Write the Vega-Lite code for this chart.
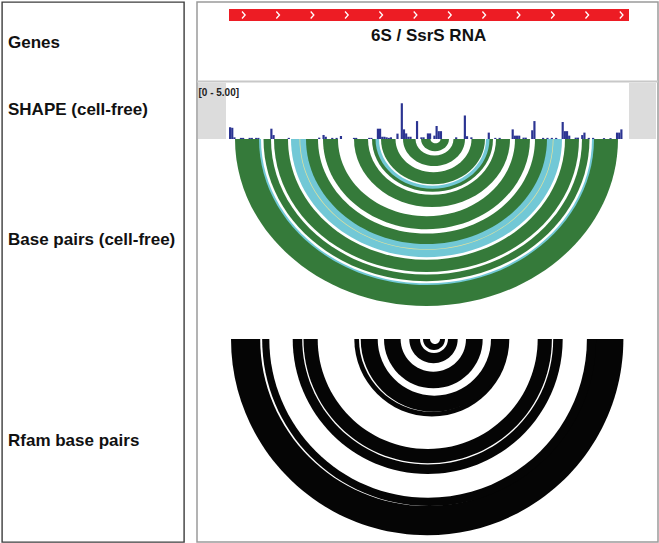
{
  "$schema": "https://vega.github.io/schema/vega-lite/v6.json",
  "padding": {"left": 1, "top": 1, "right": 1, "bottom": 1},
  "bounds": "flush",
  "spacing": 13,
  "config": {"view": {"stroke": null}, "font": "Liberation Sans"},
  "datasets": {
    "labels": [
      {"lx": 7, "ly": 46.7, "label": "Genes"},
      {"lx": 7, "ly": 114, "label": "SHAPE (cell-free)"},
      {"lx": 7, "ly": 244.3, "label": "Base pairs (cell-free)"},
      {"lx": 7, "ly": 445, "label": "Rfam base pairs"}
    ],
    "gray": [
      {"x1": -14.26, "x2": -1.38, "y1": 82, "y2": 138},
      {"x1": 184, "x2": 196.42, "y1": 82, "y2": 138}
    ],
    "sep": [{"ly": 80.5}],
    "gene": [{"start": 0, "end": 184, "top": 8, "bottom": 20}],
    "chev": [
      {"pos": 6.7, "ly": 14}, {"pos": 22.5, "ly": 14}, {"pos": 38.3, "ly": 14}, {"pos": 54.1, "ly": 14},
      {"pos": 69.9, "ly": 14}, {"pos": 85.7, "ly": 14}, {"pos": 101.5, "ly": 14}, {"pos": 117.3, "ly": 14},
      {"pos": 133.1, "ly": 14}, {"pos": 148.9, "ly": 14}, {"pos": 164.7, "ly": 14}, {"pos": 180.5, "ly": 14}
    ],
    "texts": [
      {"pos": 91.8, "ly": 40, "t": "6S / SsrS RNA"}
    ],
    "scaletxt": [{"pos": -14.03, "ly": 95, "t": "[0 - 5.00]"}],
    "shape": [
      {"s": 0, "e": 1, "v": 1.05}, {"s": 1, "e": 2, "v": 1.0}, {"s": 2, "e": 3, "v": 0.15},
      {"s": 5, "e": 6, "v": 0.1}, {"s": 6, "e": 7, "v": 0.1}, {"s": 9, "e": 10, "v": 0.1}, {"s": 10, "e": 11, "v": 0.1},
      {"s": 12, "e": 13, "v": 0.1}, {"s": 13, "e": 14, "v": 0.1}, {"s": 19, "e": 20, "v": 0.92}, {"s": 20, "e": 21, "v": 0.35},
      {"s": 27, "e": 28, "v": 0.1}, {"s": 41, "e": 42, "v": 0.12}, {"s": 43, "e": 44, "v": 0.36}, {"s": 44, "e": 45, "v": 0.2},
      {"s": 47, "e": 48, "v": 0.1}, {"s": 49, "e": 50, "v": 0.1}, {"s": 51, "e": 52, "v": 0.27}, {"s": 57, "e": 58, "v": 0.1},
      {"s": 58, "e": 59, "v": 0.1}, {"s": 64, "e": 65, "v": 0.1}, {"s": 65, "e": 66, "v": 0.1}, {"s": 68, "e": 69, "v": 0.92},
      {"s": 69, "e": 70, "v": 0.92}, {"s": 70, "e": 71, "v": 0.2}, {"s": 71, "e": 72, "v": 0.2}, {"s": 72, "e": 73, "v": 0.15},
      {"s": 73, "e": 74, "v": 0.1}, {"s": 74, "e": 75, "v": 0.15}, {"s": 77, "e": 78, "v": 0.48}, {"s": 79, "e": 80, "v": 3.19},
      {"s": 80, "e": 81, "v": 0.86}, {"s": 81, "e": 82, "v": 0.5}, {"s": 82, "e": 83, "v": 0.2}, {"s": 83, "e": 84, "v": 0.2},
      {"s": 86, "e": 87, "v": 1.6}, {"s": 88, "e": 89, "v": 0.15}, {"s": 89, "e": 90, "v": 0.15}, {"s": 91, "e": 92, "v": 0.5},
      {"s": 92, "e": 93, "v": 0.5}, {"s": 94, "e": 95, "v": 0.3}, {"s": 95, "e": 96, "v": 1.16}, {"s": 96, "e": 97, "v": 0.7},
      {"s": 97, "e": 98, "v": 0.7}, {"s": 104, "e": 105, "v": 0.15}, {"s": 108, "e": 109, "v": 2.1}, {"s": 109, "e": 110, "v": 0.25},
      {"s": 111, "e": 112, "v": 0.15}, {"s": 119, "e": 120, "v": 0.57}, {"s": 122, "e": 123, "v": 0.1}, {"s": 124, "e": 125, "v": 0.1},
      {"s": 130, "e": 131, "v": 0.86}, {"s": 131, "e": 132, "v": 0.3}, {"s": 132, "e": 133, "v": 0.3}, {"s": 133, "e": 134, "v": 0.3},
      {"s": 135, "e": 136, "v": 0.12}, {"s": 136, "e": 137, "v": 0.12}, {"s": 139, "e": 140, "v": 0.78}, {"s": 140, "e": 141, "v": 1.6},
      {"s": 144, "e": 145, "v": 0.1}, {"s": 146, "e": 147, "v": 0.1}, {"s": 148, "e": 149, "v": 0.1}, {"s": 150, "e": 151, "v": 0.1},
      {"s": 153, "e": 154, "v": 1.52}, {"s": 154, "e": 155, "v": 0.7}, {"s": 155, "e": 156, "v": 0.7}, {"s": 156, "e": 157, "v": 0.3},
      {"s": 159, "e": 160, "v": 0.12}, {"s": 160, "e": 161, "v": 0.12}, {"s": 162, "e": 163, "v": 0.35}, {"s": 163, "e": 164, "v": 0.57},
      {"s": 165, "e": 166, "v": 0.1}, {"s": 167, "e": 168, "v": 0.1}, {"s": 172, "e": 173, "v": 0.08}, {"s": 175, "e": 176, "v": 0.08},
      {"s": 178, "e": 179, "v": 0.57}, {"s": 179, "e": 180, "v": 0.57}, {"s": 180, "e": 181, "v": 0.86}
    ],
    "green": [
      {"k": 1, "c": "G", "mid": 90.85, "r": 88.09, "base": 138},
      {"k": 2, "c": "C", "mid": 90.85, "r": 77.05, "base": 138},
      {"k": 3, "c": "W", "mid": 90.85, "r": 76.13, "base": 138},
      {"k": 4, "c": "G", "mid": 90.85, "r": 74.98, "base": 138},
      {"k": 5, "c": "W", "mid": 90.85, "r": 71.53, "base": 138},
      {"k": 6, "c": "G", "mid": 90.85, "r": 70.15, "base": 138},
      {"k": 7, "c": "W", "mid": 90.85, "r": 63.71, "base": 138},
      {"k": 8, "c": "C", "mid": 90.85, "r": 62.33, "base": 138},
      {"k": 9, "c": "Y", "mid": 90.85, "r": 58.42, "base": 138},
      {"k": 10, "c": "C", "mid": 90.85, "r": 58.1, "base": 138},
      {"k": 11, "c": "G", "mid": 90.85, "r": 55.43, "base": 138},
      {"k": 12, "c": "W", "mid": 90.85, "r": 49.91, "base": 138},
      {"k": 13, "c": "G", "mid": 90.85, "r": 47.61, "base": 138},
      {"k": 14, "c": "W", "mid": 90.85, "r": 40.71, "base": 138},
      {"k": 15, "c": "G", "mid": 93.38, "r": 35.88, "base": 138},
      {"k": 16, "c": "W", "mid": 93.38, "r": 29.44, "base": 138},
      {"k": 17, "c": "G", "mid": 93.61, "r": 27.83, "base": 138},
      {"k": 18, "c": "C", "mid": 93.61, "r": 26.22, "base": 138},
      {"k": 19, "c": "W", "mid": 93.61, "r": 24.61, "base": 138},
      {"k": 20, "c": "G", "mid": 93.84, "r": 23.92, "base": 138},
      {"k": 21, "c": "W", "mid": 94.07, "r": 17.48, "base": 138},
      {"k": 22, "c": "G", "mid": 94.3, "r": 14.26, "base": 138},
      {"k": 23, "c": "W", "mid": 94.53, "r": 8.74, "base": 138},
      {"k": 24, "c": "G", "mid": 94.76, "r": 6.44, "base": 138},
      {"k": 25, "c": "W", "mid": 94.99, "r": 2.3, "base": 138}
    ],
    "black": [
      {"k": 1, "c": "B", "mid": 91.17, "r": 90.25, "base": 338},
      {"k": 2, "c": "W", "mid": 91.17, "r": 76.82, "base": 338},
      {"k": 3, "c": "B", "mid": 92.07, "r": 76.82, "base": 338},
      {"k": 4, "c": "W", "mid": 91.59, "r": 73.05, "base": 338},
      {"k": 5, "c": "B", "mid": 91.4, "r": 62.1, "base": 338},
      {"k": 6, "c": "W", "mid": 91.4, "r": 57.73, "base": 338},
      {"k": 7, "c": "B", "mid": 91.4, "r": 57.13, "base": 338},
      {"k": 8, "c": "W", "mid": 91.4, "r": 50.6, "base": 338},
      {"k": 9, "c": "B", "mid": 93.29, "r": 35.65, "base": 338},
      {"k": 10, "c": "W", "mid": 93.29, "r": 33.49, "base": 338},
      {"k": 11, "c": "B", "mid": 94.07, "r": 33.49, "base": 338},
      {"k": 12, "c": "W", "mid": 94.46, "r": 26.06, "base": 338},
      {"k": 13, "c": "B", "mid": 94.0, "r": 22.7, "base": 338},
      {"k": 14, "c": "W", "mid": 93.98, "r": 15.04, "base": 338},
      {"k": 15, "c": "B", "mid": 94.07, "r": 11.13, "base": 338},
      {"k": 16, "c": "W", "mid": 94.3, "r": 6.44, "base": 338},
      {"k": 17, "c": "B", "mid": 94.3, "r": 5.06, "base": 338},
      {"k": 18, "c": "W", "mid": 94.76, "r": 2.3, "base": 338}
    ]
  },
  "hconcat": [
    {
      "width": 182,
      "height": 540,
      "view": {"stroke": "#3c3c3c", "strokeWidth": 1.4},
      "data": {"name": "labels"},
      "mark": {"type": "text", "align": "left", "baseline": "alphabetic", "fontSize": 17, "fontWeight": "bold", "font": "Liberation Sans", "color": "#111111"},
      "encoding": {
        "x": {"field": "lx", "type": "quantitative", "scale": {"domain": [1, 183], "nice": false, "zero": false}, "axis": null},
        "y": {"field": "ly", "type": "quantitative", "scale": {"domain": [1, 541], "reverse": true, "nice": false, "zero": false}, "axis": null},
        "text": {"field": "label"}
      }
    },
    {
      "width": 461,
      "height": 540,
      "view": {"stroke": "#9a9a9a", "strokeWidth": 1.5},
      "resolve": {"scale": {"y": "independent"}},
      "layer": [
        {
          "layer": [
            {
              "data": {"name": "gray"},
              "mark": {"type": "rect", "color": "#dcdcdc"},
              "encoding": {
                "x": {"field": "x1", "type": "quantitative", "scale": {"domain": [-14.72, 197.34], "nice": false, "zero": false}, "axis": null},
                "x2": {"field": "x2"},
                "y": {"field": "y1", "type": "quantitative", "scale": {"domain": [1, 541], "reverse": true, "nice": false, "zero": false}, "axis": null},
                "y2": {"field": "y2"}
              }
            },
            {
              "data": {"name": "sep"},
              "mark": {"type": "rule", "color": "#c8c8c8", "strokeWidth": 2},
              "encoding": {
                "y": {"field": "ly", "type": "quantitative", "scale": {"domain": [1, 541], "reverse": true, "nice": false, "zero": false}, "axis": null}
              }
            },
            {
              "data": {"name": "gene"},
              "mark": {"type": "rect", "color": "#ed1c24"},
              "encoding": {
                "x": {"field": "start", "type": "quantitative", "scale": {"domain": [-14.72, 197.34], "nice": false, "zero": false}, "axis": null},
                "x2": {"field": "end"},
                "y": {"field": "top", "type": "quantitative", "scale": {"domain": [1, 541], "reverse": true, "nice": false, "zero": false}, "axis": null},
                "y2": {"field": "bottom"}
              }
            },
            {
              "data": {"name": "chev"},
              "mark": {"type": "point", "shape": "M -0.45 -1 L 0.45 0 L -0.45 1", "filled": false, "stroke": "#ffffff", "strokeWidth": 1.3, "size": 49, "opacity": 1},
              "encoding": {
                "x": {"field": "pos", "type": "quantitative", "scale": {"domain": [-14.72, 197.34], "nice": false, "zero": false}, "axis": null},
                "y": {"field": "ly", "type": "quantitative", "scale": {"domain": [1, 541], "reverse": true, "nice": false, "zero": false}, "axis": null}
              }
            },
            {
              "data": {"name": "texts"},
              "mark": {"type": "text", "align": "center", "baseline": "alphabetic", "fontSize": 17, "fontWeight": "bold", "font": "Liberation Sans", "color": "#111111"},
              "encoding": {
                "x": {"field": "pos", "type": "quantitative", "scale": {"domain": [-14.72, 197.34], "nice": false, "zero": false}, "axis": null},
                "y": {"field": "ly", "type": "quantitative", "scale": {"domain": [1, 541], "reverse": true, "nice": false, "zero": false}, "axis": null},
                "text": {"field": "t"}
              }
            },
            {
              "data": {"name": "scaletxt"},
              "mark": {"type": "text", "align": "left", "baseline": "alphabetic", "fontSize": 10, "fontWeight": "bold", "font": "Liberation Sans", "color": "#222222"},
              "encoding": {
                "x": {"field": "pos", "type": "quantitative", "scale": {"domain": [-14.72, 197.34], "nice": false, "zero": false}, "axis": null},
                "y": {"field": "ly", "type": "quantitative", "scale": {"domain": [1, 541], "reverse": true, "nice": false, "zero": false}, "axis": null},
                "text": {"field": "t"}
              }
            },
            {
              "data": {"name": "green"},
              "mark": {"type": "point", "shape": "M -1 0 C -1 0.4816 -0.5523 0.872 0 0.872 C 0.5523 0.872 1 0.4816 1 0 Z", "filled": true, "opacity": 1, "strokeWidth": 0},
              "encoding": {
                "x": {"field": "mid", "type": "quantitative", "scale": {"domain": [-14.72, 197.34], "nice": false, "zero": false}, "axis": null},
                "y": {"field": "base", "type": "quantitative", "scale": {"domain": [1, 541], "reverse": true, "nice": false, "zero": false}, "axis": null},
                "size": {"field": "r", "type": "quantitative", "scale": {"type": "pow", "exponent": 2, "domain": [0, 100], "range": [0, 189033], "nice": false}, "legend": null},
                "color": {"field": "c", "type": "nominal", "scale": {"domain": ["G", "C", "Y", "W", "B"], "range": ["#357a3a", "#72c8d6", "#e4e29c", "#ffffff", "#050505"]}, "legend": null},
                "order": {"field": "k", "type": "quantitative"}
              }
            },
            {
              "data": {"name": "black"},
              "mark": {"type": "point", "shape": "M -1 0 C -1 0.5523 -0.5523 1 0 1 C 0.5523 1 1 0.5523 1 0 Z", "filled": true, "opacity": 1, "strokeWidth": 0},
              "encoding": {
                "x": {"field": "mid", "type": "quantitative", "scale": {"domain": [-14.72, 197.34], "nice": false, "zero": false}, "axis": null},
                "y": {"field": "base", "type": "quantitative", "scale": {"domain": [1, 541], "reverse": true, "nice": false, "zero": false}, "axis": null},
                "size": {"field": "r", "type": "quantitative", "scale": {"type": "pow", "exponent": 2, "domain": [0, 100], "range": [0, 189033], "nice": false}, "legend": null},
                "color": {"field": "c", "type": "nominal", "scale": {"domain": ["G", "C", "Y", "W", "B"], "range": ["#357a3a", "#72c8d6", "#e4e29c", "#ffffff", "#050505"]}, "legend": null},
                "order": {"field": "k", "type": "quantitative"}
              }
            }
          ]
        },
        {
          "data": {"name": "shape"},
          "mark": {"type": "rect", "color": "#2b3492"},
          "encoding": {
            "x": {"field": "s", "type": "quantitative", "scale": {"domain": [-14.72, 197.34], "nice": false, "zero": false}, "axis": null},
            "x2": {"field": "e"},
            "y": {"field": "v", "type": "quantitative", "scale": {"domain": [0, 5], "range": [137, 81], "nice": false}, "axis": null},
            "y2": {"datum": 0}
          }
        }
      ]
    }
  ]
}
